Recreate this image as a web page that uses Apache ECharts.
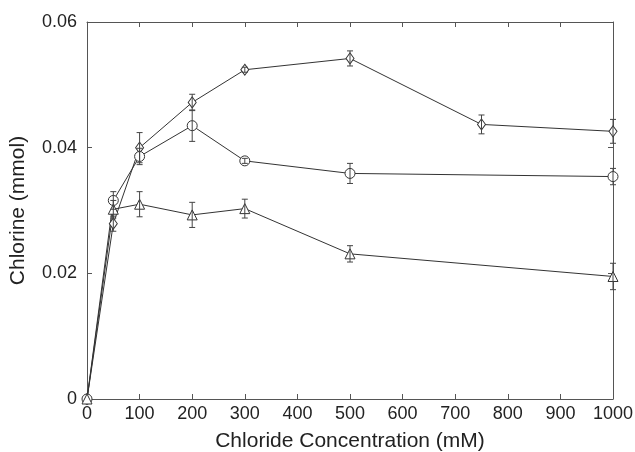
<!DOCTYPE html>
<html>
<head>
<meta charset="utf-8">
<script src="https://cdn.jsdelivr.net/npm/echarts@6/dist/echarts.min.js"></script>
<style>
  html, body { margin: 0; padding: 0; background: #fff; }
  #chart { width: 635px; height: 452px; }
</style>
</head>
<body>
<div id="chart"></div>
<script>
// Chloride concentration (mM)
const concA = [0, 50, 100, 200, 300, 500, 750, 1000];
const concB = [0, 50, 100, 200, 300, 500, 1000];

// Chlorine (mmol) for each series, with error (+/-)
const diamondVals = [0, 0.0279, 0.0400, 0.0472, 0.0524, 0.0542, 0.0437, 0.0426];
const diamondErr  = [0, 0.0012, 0.0024, 0.0013, 0.0004, 0.0012, 0.0015, 0.0019];
const circleVals  = [0, 0.0316, 0.0386, 0.0435, 0.0379, 0.0359, 0.0354];
const circleErr   = [0, 0.0014, 0.0013, 0.0025, 0.0004, 0.0016, 0.0013];
const triVals     = [0, 0.0302, 0.0310, 0.0293, 0.0303, 0.0231, 0.0195];
const triErr      = [0, 0.0014, 0.0020, 0.0020, 0.0015, 0.0013, 0.0021];

const xTicks = [0, 100, 200, 300, 400, 500, 600, 700, 800, 900, 1000];
const yTicks = [0, 0.02, 0.04, 0.06];

const lineColor = '#333';
const font = 'Liberation Sans, Arial, sans-serif';

function pairs(xs, ys) {
  return xs.map((x, i) => [x, ys[i]]);
}
function errData(xs, ys, es) {
  return xs.map((x, i) => [x, ys[i] - es[i], ys[i] + es[i]]);
}

function errorBar(params, api) {
  const lo = api.coord([api.value(0), api.value(1)]);
  const hi = api.coord([api.value(0), api.value(2)]);
  if (Math.abs(lo[1] - hi[1]) < 2) return null;
  const cap = 3;
  const style = { stroke: '#444', lineWidth: 1 };
  return {
    type: 'group',
    children: [
      { type: 'line', shape: { x1: lo[0], y1: lo[1], x2: hi[0], y2: hi[1] }, style },
      { type: 'line', shape: { x1: lo[0] - cap, y1: lo[1], x2: lo[0] + cap, y2: lo[1] }, style },
      { type: 'line', shape: { x1: hi[0] - cap, y1: hi[1], x2: hi[0] + cap, y2: hi[1] }, style }
    ]
  };
}

function lineSeries(name, xs, ys, symbol, size) {
  return {
    name,
    type: 'line',
    data: pairs(xs, ys),
    symbol,
    symbolSize: size,
    lineStyle: { color: lineColor, width: 1 },
    itemStyle: { color: '#fff', borderColor: lineColor, borderWidth: 1 },
    z: 3,
    animation: false
  };
}

function errSeries(xs, ys, es) {
  return {
    type: 'custom',
    renderItem: errorBar,
    data: errData(xs, ys, es),
    encode: { x: 0, y: [1, 2] },
    z: 4,
    animation: false
  };
}

const chart = echarts.init(document.getElementById('chart'));

const tickStyle = { show: true, inside: true, length: 5, lineStyle: { color: '#555' } };
const axisLineStyle = { show: true, onZero: false, lineStyle: { color: '#555', width: 1 } };

chart.setOption({
  animation: false,
  grid: { left: 87, right: 22, top: 22, bottom: 53, containLabel: false, outerBoundsMode: 'none' },
  xAxis: [
    {
      type: 'value', min: 0, max: 1000, interval: 100,
      name: 'Chloride Concentration (mM)',
      nameLocation: 'middle', nameGap: 32,
      nameTextStyle: { fontFamily: font, fontSize: 21, color: '#222' },
      axisLine: axisLineStyle, axisTick: tickStyle,
      axisLabel: {
        fontFamily: font, fontSize: 18, color: '#222', margin: 6,
        formatter: v => (xTicks.includes(v) ? String(v) : '')
      },
      splitLine: { show: false }
    },
    {
      type: 'value', min: 0, max: 1000, interval: 100, position: 'top',
      axisLine: axisLineStyle, axisTick: tickStyle,
      axisLabel: { show: false }, splitLine: { show: false }
    }
  ],
  yAxis: [
    {
      type: 'value', min: 0, max: 0.06, interval: 0.02,
      name: 'Chlorine (mmol)',
      nameLocation: 'middle', nameGap: 58,
      nameTextStyle: { fontFamily: font, fontSize: 21, color: '#222' },
      axisLine: axisLineStyle, axisTick: tickStyle,
      axisLabel: {
        fontFamily: font, fontSize: 18, color: '#222', margin: 10,
        formatter: v => {
          const t = yTicks.find(k => Math.abs(k - v) < 1e-9);
          return t === undefined ? '' : (t === 0 ? '0' : t.toFixed(2));
        }
      },
      splitLine: { show: false }
    },
    {
      type: 'value', min: 0, max: 0.06, interval: 0.02, position: 'right',
      axisLine: axisLineStyle, axisTick: tickStyle,
      axisLabel: { show: false }, splitLine: { show: false }
    }
  ],
  series: [
    errSeries(concA, diamondVals, diamondErr),
    errSeries(concB, circleVals, circleErr),
    errSeries(concB, triVals, triErr),
    lineSeries('Diamond', concA, diamondVals, 'diamond', [8, 11]),
    lineSeries('Circle', concB, circleVals, 'circle', 10),
    lineSeries('Triangle', concB, triVals, 'triangle', 10)
  ]
});
</script>
</body>
</html>
